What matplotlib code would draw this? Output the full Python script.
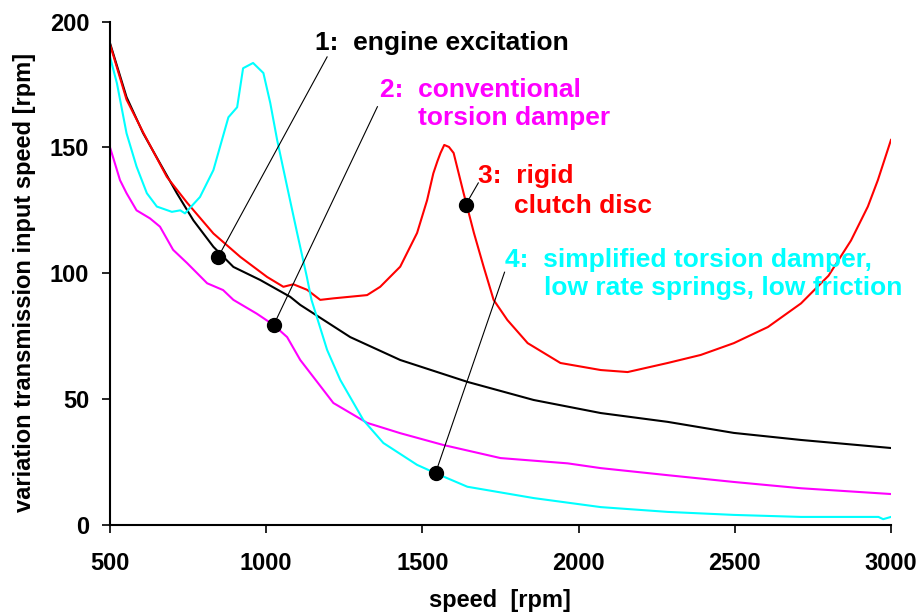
import matplotlib
matplotlib.use("Agg")
import matplotlib.pyplot as plt

plt.rcParams['font.family'] = ['Liberation Sans', 'DejaVu Sans']
plt.rcParams['font.weight'] = 'bold'

# 1: engine excitation
engine_x = [500, 553, 606, 660, 714, 767, 831, 895, 981, 1077, 1109, 1269, 1429,
            1644, 1856, 2071, 2285, 2497, 2712, 3000]
engine_y = [191.5, 170, 155.7, 143.7, 131.8, 121, 110.5, 102.5, 97.3, 90.6, 87.4,
            74.6, 65.5, 56.8, 49.6, 44.4, 40.9, 36.5, 33.7, 30.5]

# 2: conventional torsion damper
conv_x = [500, 510, 532, 553, 585, 628, 660, 702, 747, 811, 862, 895, 970, 1024,
          1067, 1109, 1163, 1215, 1323, 1429, 1567, 1750, 1965, 2071, 2285, 2497,
          2712, 3000]
conv_y = [150, 146, 137, 131.8, 125, 121.8, 118.5, 109.3, 104, 96, 93.3, 89.4,
          83.9, 79.4, 74.6, 65.5, 56.8, 48.4, 40.5, 36.4, 31.7, 26.5, 24.4, 22.5,
          19.7, 17, 14.5, 12.2]

# 3: rigid clutch disc
rigid_x = [500, 553, 606, 682, 747, 831, 917, 1003, 1055, 1087, 1131, 1173, 1215,
           1323, 1365, 1429, 1483, 1515, 1535, 1548, 1558, 1570, 1585, 1600, 1632,
           1665, 1696, 1728, 1772, 1837, 1942, 2071, 2157, 2285, 2391, 2497, 2606,
           2712, 2800, 2872, 2926, 2958, 3000]
rigid_y = [191, 169, 156, 138.3, 128, 115.8, 106.5, 98.5, 94.6, 95.6, 93.4, 89.4,
           90, 91.3, 94.6, 102.6, 116, 129, 139.7, 144.5, 147.8, 151, 150.2, 147.8,
           131.8, 116, 102.6, 89.4, 81.4, 72.2, 64.3, 61.5, 60.7, 64.3, 67.5, 72.2,
           78.6, 88, 99, 113, 126.5, 137, 153]

# 4: simplified torsion damper
simp_x = [500, 522, 553, 585, 618, 650, 698, 725, 740, 788, 831, 879, 907, 926, 958,
          991, 1013, 1035, 1067, 1099, 1130, 1145, 1195, 1237, 1311, 1375, 1483,
          1542, 1644, 1856, 2071, 2285, 2497, 2712, 2960, 2975, 3000]
simp_y = [186, 175.6, 155.6, 142.4, 131.8, 126.5, 124.4, 125, 123.8, 130.3, 141,
          162, 166, 181.5, 183.6, 179.6, 167.7, 153, 134.4, 116, 98.6, 89.4, 69.5,
          57.6, 41.6, 32.5, 23.8, 20.5, 15.1, 10.6, 7, 5.1, 3.9, 3.1, 3.1, 2.2, 3.1]

x_ticks = [500, 1000, 1500, 2000, 2500, 3000]
y_ticks = [0, 50, 100, 150, 200]

# marker point on curve, end of leader line, label lines
labels = [
    ((846, 106.4), (1195, 186), ['1:  engine excitation'], [(1157, 188.8)], 'black'),
    ((1024, 79.4), (1356, 166.2), ['2:  conventional', 'torsion damper'],
     [(1365, 170), (1487, 159)], '#FF00FF'),
    ((1638, 127.1), (1679, 135.9), ['3:  rigid', 'clutch disc'],
     [(1679, 136), (1792, 124)], '#FF0000'),
    ((1542, 20.5), (1763, 100.4), ['4:  simplified torsion damper,',
                                   'low rate springs, low friction'],
     [(1766, 102.6), (1888, 91.4)], '#00FFFF'),
]

fig = plt.figure(figsize=(9.19, 6.15), dpi=100)
ax = fig.add_axes([0.1197, 0.1468, 0.8498, 0.8179])

ax.plot(engine_x, engine_y, color='black', lw=1.5)
ax.plot(conv_x, conv_y, color='#FF00FF', lw=1.5)
ax.plot(rigid_x, rigid_y, color='#FF0000', lw=1.5)
ax.plot(simp_x, simp_y, color='#00FFFF', lw=1.5)

for pt, end, lines, pos, col in labels:
    ax.plot([pt[0], end[0]], [pt[1], end[1]], color='black', lw=0.8)
    ax.plot(pt[0], pt[1], 'o', color='black', ms=10)
    for txt, p in zip(lines, pos):
        ax.text(p[0], p[1], txt, color=col, fontsize=19, fontweight='bold',
                ha='left', va='baseline')

ax.set_xlim(500, 3000)
ax.set_ylim(0, 200)
ax.set_xticks(x_ticks)
ax.set_yticks(y_ticks)
ax.tick_params(direction='out', length=6, width=1.2, labelsize=17)
ax.tick_params(axis='x', pad=14)
ax.tick_params(axis='y', pad=9)
for lab in ax.get_xticklabels() + ax.get_yticklabels():
    lab.set_fontweight('bold')
ax.spines['top'].set_visible(False)
ax.spines['right'].set_visible(False)
ax.spines['left'].set_linewidth(1.5)
ax.spines['bottom'].set_linewidth(1.5)

fig.text(0.5435, 0.013, 'speed  [rpm]', fontsize=17, fontweight='bold',
         ha='center', va='baseline')
fig.text(0.027, 0.5407, 'variation transmission input speed [rpm]', fontsize=17,
         fontweight='bold', ha='center', va='center', rotation=90)

fig.savefig('out.png', dpi=100)
